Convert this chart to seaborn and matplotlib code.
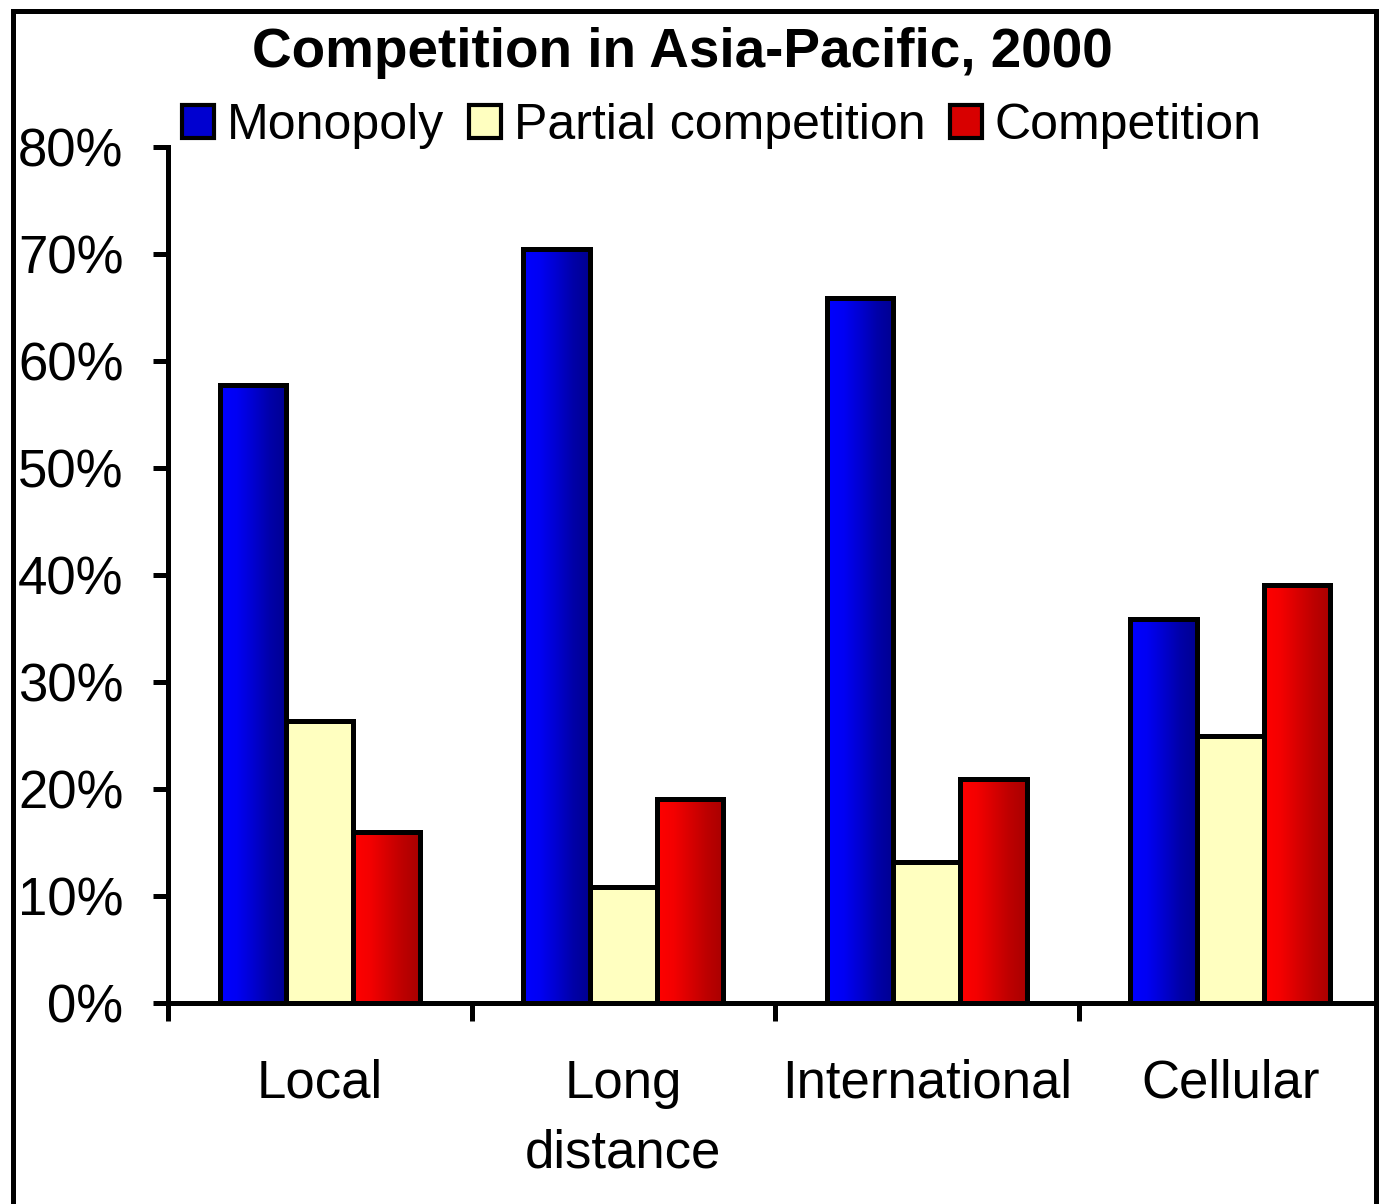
import numpy as np
import pandas as pd
import seaborn as sns
import matplotlib.pyplot as plt
from matplotlib.colors import LinearSegmentedColormap
from matplotlib.patches import Rectangle

# Datos
categorias = ["Local", "Long\ndistance", "International", "Cellular"]
series = ["Monopoly", "Partial competition", "Competition"]
monopoly = [0.578, 0.705, 0.659, 0.359]
partial = [0.264, 0.108, 0.132, 0.250]
competition = [0.160, 0.191, 0.209, 0.391]
yticks = [0.0, 0.1, 0.2, 0.3, 0.4, 0.5, 0.6, 0.7, 0.8]
ytick_labels = ["0%", "10%", "20%", "30%", "40%", "50%", "60%", "70%", "80%"]
titulo = "Competition in Asia-Pacific, 2000"

df = pd.DataFrame({
    "categoria": categorias * 3,
    "serie": [s for s in series for _ in categorias],
    "valor": monopoly + partial + competition,
})

colores = {"Monopoly": "#0000D0", "Partial competition": "#FFFFC0", "Competition": "#D80000"}
gradientes = {
    "Monopoly": LinearSegmentedColormap.from_list(
        "azul", ["#0000FF", "#0000F4", "#0000D0", "#0000A8", "#000090"]),
    "Competition": LinearSegmentedColormap.from_list(
        "rojo", ["#FF0000", "#F40000", "#D80000", "#BC0000", "#A80000"]),
}

sns.set_style("white")
plt.rcParams["font.family"] = ["Liberation Sans", "DejaVu Sans"]
plt.rcParams["text.color"] = "black"
plt.rcParams["xtick.color"] = "black"
plt.rcParams["ytick.color"] = "black"

fig = plt.figure(figsize=(13.79, 12.04), dpi=100)
ax = fig.add_axes([168 / 1379, 201 / 1204, (1382 - 168) / 1379, (1003 - 147) / 1204])

sns.barplot(
    data=df, x="categoria", y="valor", hue="serie",
    order=categorias, hue_order=series, palette=colores, saturation=1,
    width=0.66, errorbar=None, edgecolor="black", linewidth=3.6, ax=ax,
)

# Relleno degradado en las barras azul y roja
grad = np.linspace(0, 1, 256).reshape(1, -1)
for cont, nombre in zip(ax.containers, series):
    if nombre not in gradientes:
        continue
    for p in cont.patches:
        x0, y0 = p.get_x(), p.get_y()
        im = ax.imshow(grad, cmap=gradientes[nombre], aspect="auto",
                       extent=(x0, x0 + p.get_width(), y0, y0 + p.get_height()),
                       zorder=p.get_zorder() + 0.1)
        im.set_clip_path(p)
        p.set_facecolor("none")
        p.set_zorder(p.get_zorder() + 0.2)

ax.set_xlim(-0.5, 3.5)
ax.set_ylim(0, 0.8)
ax.set_xlabel("")
ax.set_ylabel("")

# Ejes
for s in ["top", "right"]:
    ax.spines[s].set_visible(False)
for s in ["left", "bottom"]:
    ax.spines[s].set_linewidth(3.6)
    ax.spines[s].set_color("black")

ax.set_yticks(yticks)
ax.set_yticklabels(ytick_labels)
ax.tick_params(axis="y", direction="out", length=11, width=3.6, pad=21,
               labelsize=38, left=True)

ax.set_xticks([-0.5, 0.5, 1.5, 2.5, 3.5])
ax.set_xticklabels([])
ax.set_xticks(range(len(categorias)), minor=True)
ax.set_xticklabels(categorias, minor=True, fontsize=38, linespacing=1.5)
ax.tick_params(axis="x", which="major", direction="out", length=13, width=3.6, bottom=True)
ax.tick_params(axis="x", which="minor", length=0, pad=40)

# Título
fig.text(0.495, 1 - 67 / 1204, titulo, ha="center", va="baseline",
         fontsize=39.5, fontweight="bold")

# Leyenda
sns.move_legend(
    ax, "center", bbox_to_anchor=(722 / 1379, 1 - 126 / 1204),
    bbox_transform=fig.transFigure, ncol=3, frameon=False, title=None,
    fontsize=36, handlelength=0.64, handleheight=0.64, handletextpad=0.25,
    columnspacing=0.5, borderpad=0, borderaxespad=0,
)
for h in ax.get_legend().legend_handles:
    h.set_edgecolor("black")
    h.set_linewidth(3)

# Marco exterior
fig.patches.append(Rectangle((13 / 1379, -0.05), (1376 - 13) / 1379, 1.05 - 11 / 1204,
                             transform=fig.transFigure, fill=False,
                             edgecolor="black", linewidth=3.6))

plt.savefig("out.png", dpi=100)
